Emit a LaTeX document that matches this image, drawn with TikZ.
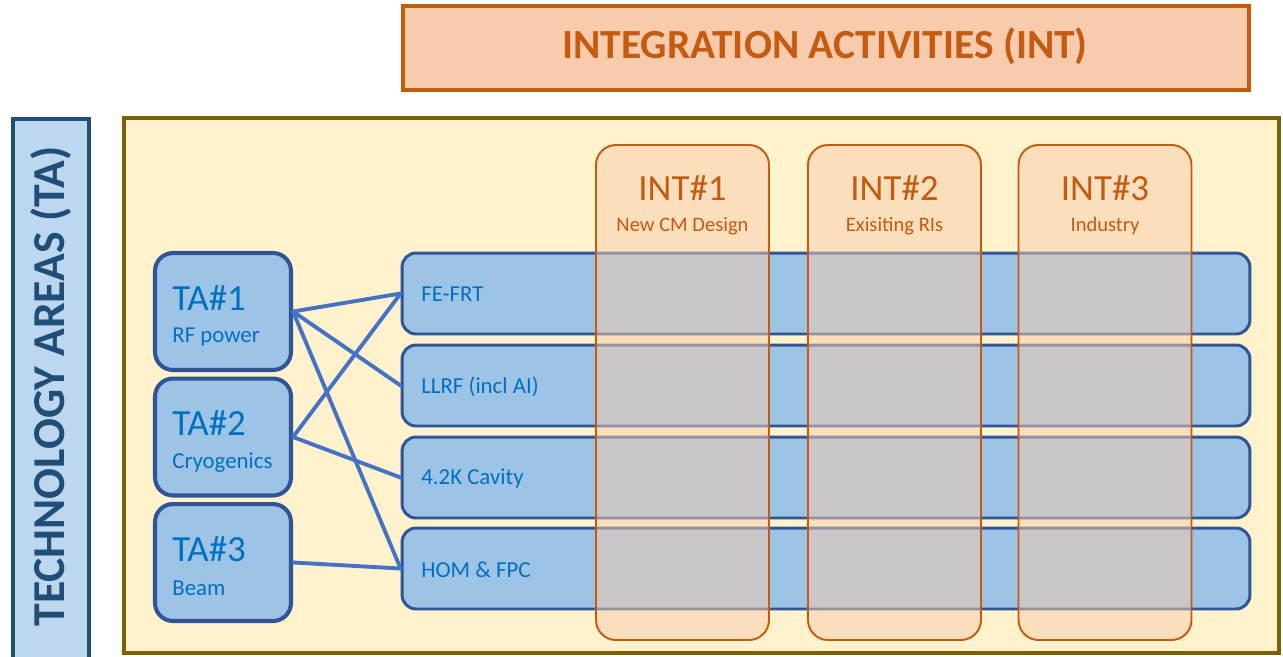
\documentclass[tikz,border=0pt]{standalone}
\usepackage{fontspec}
\setmainfont{Carlito}
\usepackage{xcolor}
\definecolor{b1}{HTML}{9DC3E6}
\definecolor{b2}{HTML}{2F5597}
\definecolor{b3}{HTML}{0070C0}
\definecolor{b4}{HTML}{4472C4}
\definecolor{b5}{HTML}{BDD7EE}
\definecolor{b6}{HTML}{1F4E79}
\definecolor{o1}{HTML}{F8CBAD}
\definecolor{o2}{HTML}{C55A11}
\definecolor{y1}{HTML}{FFF2CC}
\definecolor{y2}{HTML}{7F6000}

\begin{document}
\begin{tikzpicture}[x=0.02cm,y=-0.02cm,
	tabox/.style={draw=b2,line width=2.3pt,fill=b1,rounded corners=0.36cm,minimum width=2.72cm,minimum height=2.34cm},
	bar/.style={draw=b2,line width=1.7pt,fill=b1,rounded corners=0.28cm,minimum width=16.96cm,minimum height=1.62cm},
	intcol/.style={draw=o2,line width=1.1pt,fill=o1,fill opacity=0.5,rounded corners=0.4cm},
	link/.style={b4,line width=2.2pt,line cap=round},
	big/.style={font=\fontsize{21}{24}\selectfont,inner sep=0pt},
	small/.style={font=\fontsize{13}{15}\selectfont,inner sep=0pt},
	tiny/.style={font=\fontsize{11.7}{14}\selectfont,inner sep=0pt}]
	\useasboundingbox (0,0) rectangle (1283,656);

	\draw [fill=o1,draw=o2,line width=2.3pt] (403,6) rectangle (1249,90);
	\node (int) at (825,46) [text=o2,font=\fontsize{23.6}{28}\selectfont\bfseries] {INTEGRATION ACTIVITIES (INT)};
	\draw [fill=b5,draw=b6,line width=2.3pt] (13,119) rectangle (89,670);
	\node (ta) at (51,386.5) [rotate=90,text=b6,font=\fontsize{26}{30}\selectfont\bfseries] {TECHNOLOGY AREAS (TA)};
	\draw [fill=y1,draw=y2,line width=2.3pt] (124,118) rectangle (1279,653);

	\foreach \n/\y/\t in {fe/293.5/FE-FRT, ll/385.5/LLRF (incl AI), kc/477.5/4.2K Cavity, hf/568.5/HOM \& FPC}{
		\node (\n) at (826,\y) [bar] {};
		\node (\n t) at (421,\y+1) [anchor=west,small,text=b3] {\t};
	}

	\foreach \n/\x/\a/\b in {i1/682.5/INT\#1/New CM Design, i2/894.5/INT\#2/Exisiting RIs, i3/1105/INT\#3/Industry}{
		\draw [intcol] (\x-86.5,145) rectangle (\x+86.5,640); %半透明的列,下面的横条透出来
		\node (\n a) at (\x,188) [big,text=o2] {\a};
		\node (\n b) at (\x,226) [tiny,text=o2] {\b};
	}

	\foreach \n/\y/\a/\b in {ta1/311.5/TA\#1/RF power, ta2/437/TA\#2/Cryogenics, ta3/562.5/TA\#3/Beam}{
		\node (\n) at (223,\y) [tabox] {};
		\node (\n a) at (172,\y-13.5) [anchor=west,big,text=b3] {\a};
		\node (\n b) at (172,\y+25.5) [anchor=west,small,text=b3] {\b};
	}

	\draw [link] (ta1.east) -- (fe.west);
	\draw [link] (ta1.east) -- (ll.west);
	\draw [link] (ta1.east) -- (hf.west);
	\draw [link] (ta2.east) -- (fe.west);
	\draw [link] (ta2.east) -- (kc.west);
	\draw [link] (ta3.east) -- (hf.west);
\end{tikzpicture}
\end{document}
